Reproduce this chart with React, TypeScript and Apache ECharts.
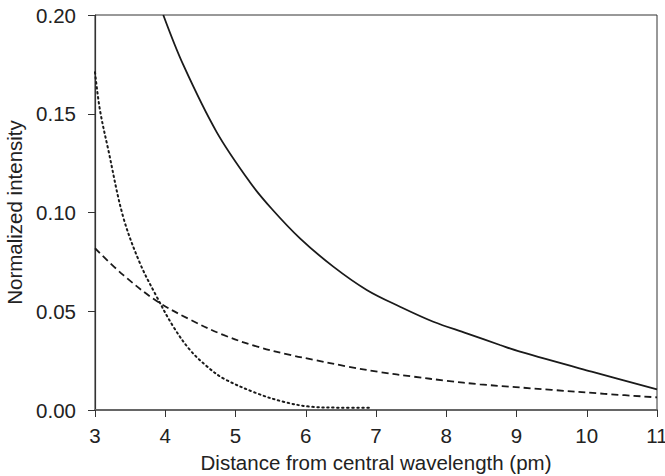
import React, { useEffect, useRef } from "react";
import * as echarts from "echarts";

const solidX = [3.972, 4.257, 4.732, 5.206, 5.515, 5.918, 6.392, 6.868, 7.342, 7.816, 8.291, 8.765, 9.05, 10.07, 11.0];
const solidY = [0.2, 0.1747, 0.1407, 0.1153, 0.1019, 0.0869, 0.0726, 0.0608, 0.0523, 0.0447, 0.0388, 0.0329, 0.0295, 0.0194, 0.0105];

const dashedX = [3.0, 3.4, 3.878, 4.352, 4.827, 5.3, 5.776, 6.107, 6.58, 7.057, 7.53, 8.006, 8.48, 9.5, 10.25, 11.0];
const dashedY = [0.0819, 0.0684, 0.0552, 0.0458, 0.038, 0.0322, 0.0279, 0.0255, 0.0221, 0.0192, 0.0169, 0.0148, 0.013, 0.0102, 0.0082, 0.0064];

const dottedX = [3.0, 3.07, 3.19, 3.4, 3.64, 3.878, 4.115, 4.352, 4.59, 4.827, 5.3, 5.68, 6.06, 6.5, 6.93];
const dottedY = [0.171, 0.152, 0.1316, 0.0979, 0.0743, 0.0574, 0.0422, 0.0304, 0.0222, 0.016, 0.0085, 0.0042, 0.0017, 0.0012, 0.0012];

const xTicks = [3, 4, 5, 6, 7, 8, 9, 10, 11];
const yTicks = [0.0, 0.05, 0.1, 0.15, 0.2];

const zip = (xs: number[], ys: number[]) => xs.map((x, i) => [x, ys[i]]);

export default function App() {
  const ref = useRef<HTMLDivElement>(null);
  useEffect(() => {
    if (!ref.current) return;
    const chart = echarts.init(ref.current, undefined, { renderer: "svg" });
    const font = "'Liberation Sans', Arial, Helvetica, sans-serif";
    const fs = 20.5;
    const lineBase = { type: "line", showSymbol: false, smooth: 0.35, silent: true };
    chart.setOption({
      animation: false,
      backgroundColor: "#fff",
      grid: {
        left: 95,
        right: 8,
        top: 15,
        bottom: 66,
        containLabel: false,
        outerBoundsMode: "none",
        show: true,
        borderColor: "#333",
        borderWidth: 1,
      },
      xAxis: {
        type: "value",
        min: xTicks[0],
        max: xTicks[xTicks.length - 1],
        interval: 1,
        name: "Distance from central wavelength (pm)",
        nameLocation: "middle",
        nameGap: 42,
        nameTextStyle: { fontFamily: font, fontSize: fs, color: "#222" },
        axisLine: { lineStyle: { color: "#666", width: 2 } },
        axisTick: { show: true, length: 7, lineStyle: { color: "#333", width: 1 } },
        axisLabel: { fontFamily: font, fontSize: fs, color: "#222", margin: 15 },
        splitLine: { show: false },
      },
      yAxis: {
        type: "value",
        min: yTicks[0],
        max: yTicks[yTicks.length - 1],
        interval: 0.05,
        name: "Normalized intensity",
        nameLocation: "middle",
        nameGap: 69,
        nameTextStyle: { fontFamily: font, fontSize: fs, color: "#222" },
        axisLine: { lineStyle: { color: "#333", width: 1.2 } },
        axisTick: { show: true, length: 7, lineStyle: { color: "#333", width: 1 } },
        axisLabel: {
          fontFamily: font,
          fontSize: fs,
          color: "#222",
          margin: 19,
          formatter: (v: number) => v.toFixed(2),
        },
        splitLine: { show: false },
      },
      series: [
        { ...lineBase, name: "solid", data: zip(solidX, solidY), lineStyle: { color: "#1a1a1a", width: 1.8, type: "solid" } },
        { ...lineBase, name: "dashed", data: zip(dashedX, dashedY), lineStyle: { color: "#1a1a1a", width: 1.8, type: [7, 4] } },
        { ...lineBase, name: "dotted", data: zip(dottedX, dottedY), lineStyle: { color: "#1a1a1a", width: 2, type: [1.5, 3.5], cap: "round" } },
      ],
    });
    return () => chart.dispose();
  }, []);
  return <div ref={ref} style={{ position: "fixed", left: 0, top: 0, width: 665, height: 476 }} />;
}
